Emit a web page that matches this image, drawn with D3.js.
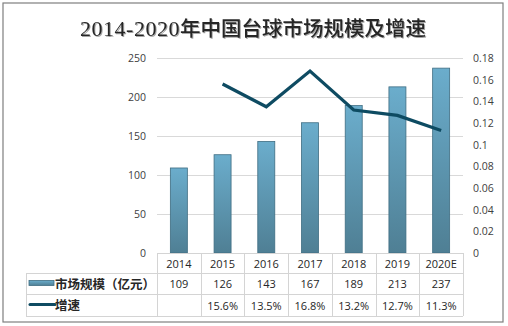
<!DOCTYPE html>
<html>
<head>
<meta charset="utf-8">
<script src="https://cdn.jsdelivr.net/npm/d3@7"></script>
<style>
  body { margin: 0; background: #fff; }
  svg text { font-family: "Noto Sans", "Noto Sans CJK SC", sans-serif; }
</style>
</head>
<body>
<div id="chart"></div>
<script>
const years = ["2014", "2015", "2016", "2017", "2018", "2019", "2020E"]
const marketSize = [109, 126, 143, 167, 189, 213, 237]
const growth = [null, 0.156, 0.135, 0.168, 0.132, 0.127, 0.113]
const growthLabels = ["", "15.6%", "13.5%", "16.8%", "13.2%", "12.7%", "11.3%"]
const leftTicks = [0, 50, 100, 150, 200, 250]
const rightTicks = [0, 0.02, 0.04, 0.06, 0.08, 0.1, 0.12, 0.14, 0.16, 0.18]

const width = 508, height = 326
const plot = {left: 157, right: 463, top: 58, bottom: 253}
const tableLeft = 26
const rowBottoms = [273, 294, 316]

const svg = d3.select("#chart").append("svg")
  .attr("width", width)
  .attr("height", height)

const defs = svg.append("defs")
const grad = defs.append("linearGradient")
  .attr("id", "barGrad")
  .attr("x1", 0).attr("y1", 0).attr("x2", 0).attr("y2", 1)
grad.append("stop").attr("offset", "0%").attr("stop-color", "#6badcc")
grad.append("stop").attr("offset", "100%").attr("stop-color", "#4f7f94")

const shadow = defs.append("filter").attr("id", "titleShadow")
  .attr("x", "-5%").attr("y", "-20%").attr("width", "110%").attr("height", "140%")
shadow.append("feDropShadow")
  .attr("dx", 1).attr("dy", 1).attr("stdDeviation", 0.7)
  .attr("flood-color", "#000").attr("flood-opacity", 0.35)

// outer frame
svg.append("rect")
  .attr("x", 3).attr("y", 3)
  .attr("width", 500).attr("height", 319)
  .attr("fill", "#fff")
  .attr("stroke", "#7f7f7f")
  .attr("stroke-width", 1.2)

const title = svg.append("text")
  .attr("x", 253).attr("y", 36)
  .attr("text-anchor", "middle")
  .attr("fill", "#262626")
  .attr("filter", "url(#titleShadow)")
title.append("tspan")
  .attr("font-size", 22)
  .attr("letter-spacing", 0.5)
  .style("font-family", "'Liberation Serif', 'DejaVu Serif', serif")
  .text("2014-2020")
title.append("tspan")
  .attr("font-size", 20.5)
  .attr("font-weight", 500)
  .style("font-family", "'Noto Sans CJK SC', sans-serif")
  .text("年中国台球市场规模及增速")

const x = d3.scaleBand()
  .domain(years)
  .range([plot.left, plot.right])

const y = d3.scaleLinear()
  .domain([0, 250])
  .range([plot.bottom, plot.top])

const y2 = d3.scaleLinear()
  .domain([0, 0.18])
  .range([plot.bottom, plot.top])

// gridlines
svg.append("g")
  .selectAll("line")
  .data(leftTicks.filter(d => d > 0))
  .enter()
  .append("line")
  .attr("x1", plot.left).attr("x2", plot.right)
  .attr("y1", d => y(d) + 0.5).attr("y2", d => y(d) + 0.5)
  .attr("stroke", "#d9d9d9")

const tickFont = "'Open Sans', 'Noto Sans', sans-serif"

// left axis labels
const leftAxis = svg.append("g")
  .attr("transform", `translate(${plot.left - 11},0)`)
  .call(d3.axisLeft(y).tickValues(leftTicks).tickSize(0).tickPadding(0))
leftAxis.select(".domain").remove()
leftAxis.selectAll("text")
  .attr("font-size", 10.5)
  .attr("fill", "#404040")
  .style("font-family", tickFont)

// right axis labels
const rightAxis = svg.append("g")
  .attr("transform", `translate(${plot.right + 10},0)`)
  .call(d3.axisRight(y2).tickValues(rightTicks).tickSize(0).tickPadding(0)
    .tickFormat(d => String(+d.toFixed(2))))
rightAxis.select(".domain").remove()
rightAxis.selectAll("text")
  .attr("font-size", 10.5)
  .attr("fill", "#404040")
  .style("font-family", tickFont)

// bars
const barW = 17
svg.append("g")
  .selectAll("rect")
  .data(marketSize)
  .enter()
  .append("rect")
  .attr("x", (d, i) => x(years[i]) + x.bandwidth() / 2 - barW / 2)
  .attr("y", d => y(d))
  .attr("width", barW)
  .attr("height", d => plot.bottom - y(d))
  .attr("fill", "url(#barGrad)")
  .attr("stroke", "#3f6d82")
  .attr("stroke-width", 0.8)

// growth line
const line = d3.line()
  .defined(d => d.v != null)
  .x(d => x(d.year) + x.bandwidth() / 2)
  .y(d => y2(d.v))

svg.append("path")
  .datum(years.map((year, i) => ({year, v: growth[i]})))
  .attr("d", line)
  .attr("fill", "none")
  .attr("stroke", "#0e4b62")
  .attr("stroke-width", 3.2)
  .attr("stroke-linejoin", "miter")

// data table
const table = svg.append("g")
const border = "#d4d4d4"

table.append("line")
  .attr("x1", plot.left).attr("x2", plot.right)
  .attr("y1", plot.bottom + 0.5).attr("y2", plot.bottom + 0.5)
  .attr("stroke", border)

rowBottoms.forEach(yy => {
  table.append("line")
    .attr("x1", tableLeft).attr("x2", plot.right)
    .attr("y1", yy + 0.5).attr("y2", yy + 0.5)
    .attr("stroke", border)
})

const colEdges = years.map(d => x(d)).concat([plot.right])
table.selectAll("line.col")
  .data(colEdges)
  .enter()
  .append("line")
  .attr("class", "col")
  .attr("x1", d => Math.round(d) + 0.5).attr("x2", d => Math.round(d) + 0.5)
  .attr("y1", plot.bottom).attr("y2", rowBottoms[2])
  .attr("stroke", border)

table.append("line")
  .attr("x1", tableLeft + 0.5).attr("x2", tableLeft + 0.5)
  .attr("y1", rowBottoms[0]).attr("y2", rowBottoms[2])
  .attr("stroke", border)

const cellFont = tickFont

function cellRow(cls, data, yy) {
  table.selectAll("text." + cls)
    .data(data)
    .enter()
    .append("text")
    .attr("class", cls)
    .attr("x", (d, i) => x(years[i]) + x.bandwidth() / 2)
    .attr("y", yy)
    .attr("text-anchor", "middle")
    .attr("font-size", 11)
    .attr("fill", "#262626")
    .style("font-family", cellFont)
    .text(d => d)
}

cellRow("year", years, 267.5)
cellRow("size", marketSize, 287.5)
cellRow("growth", growthLabels, 309.5)

// legend keys inside the table
table.append("rect")
  .attr("x", 29).attr("y", 280.5)
  .attr("width", 25).attr("height", 5)
  .attr("fill", "url(#barGrad)")
  .attr("stroke", "#3f6d82")
  .attr("stroke-width", 0.8)

table.append("text")
  .attr("x", 55).attr("y", 288.5)
  .attr("font-size", 12.5)
  .attr("font-weight", "bold")
  .attr("fill", "#262626")
  .style("font-family", "'Noto Sans CJK SC', sans-serif")
  .text("市场规模（亿元）")

table.append("line")
  .attr("x1", 30).attr("x2", 55)
  .attr("y1", 304.5).attr("y2", 304.5)
  .attr("stroke", "#0e4b62")
  .attr("stroke-width", 3)
  .attr("stroke-linecap", "round")

table.append("text")
  .attr("x", 55).attr("y", 310)
  .attr("font-size", 12.5)
  .attr("font-weight", "bold")
  .attr("fill", "#262626")
  .style("font-family", "'Noto Sans CJK SC', sans-serif")
  .text("增速")
</script>
</body>
</html>
